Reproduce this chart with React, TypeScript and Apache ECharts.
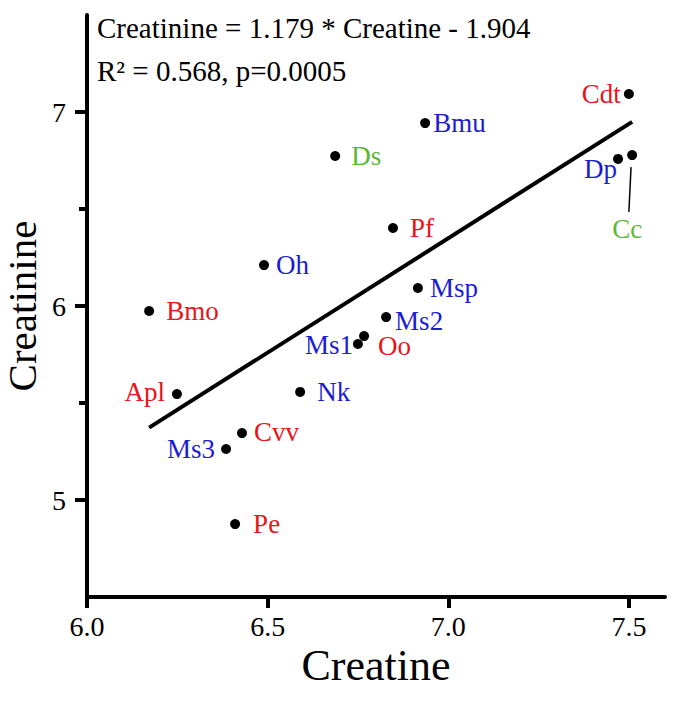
import React, { useEffect, useRef } from "react";
import * as echarts from "echarts";

// ---- data ----
const names = ["Cdt", "Bmu", "Ds", "Dp", "Cc", "Pf", "Oh", "Msp", "Bmo", "Ms2", "Oo", "Ms1", "Nk", "Apl", "Cvv", "Ms3", "Pe"];
const creatine = [7.5, 6.936, 6.687, 7.47, 7.509, 6.847, 6.49, 6.916, 6.172, 6.828, 6.767, 6.75, 6.59, 6.249, 6.429, 6.385, 6.41];
const creatinine = [7.093, 6.943, 6.773, 6.758, 6.778, 6.402, 6.211, 6.093, 5.974, 5.943, 5.845, 5.804, 5.557, 5.546, 5.345, 5.263, 4.876];
const groups = ["red", "blue", "green", "blue", "green", "red", "blue", "blue", "red", "blue", "red", "blue", "blue", "red", "red", "blue", "red"];

// regression line end points (Creatinine = 1.179 * Creatine - 1.904)
const fitLine = [
  [6.172, 5.373],
  [7.509, 6.949],
];
// leader line from Cc point to its label
const ccLeader = [
  [7.506, 6.716],
  [7.5, 6.485],
];

const xTicks = [6.0, 6.5, 7.0, 7.5];
const yMajorTicks = [5, 6, 7];
const yMinorTicks = [5.5, 6.5];

const annotation1 = "Creatinine = 1.179 * Creatine - 1.904";
const annotation2 = "R\u00B2 = 0.568, p=0.0005";

// ---- styles ----
const FONT = '"Liberation Serif", "Times New Roman", serif';
const colorMap: Record<string, string> = {
  red: "#e8141a",
  blue: "#1c1cd4",
  green: "#5ab834",
};
const labelPlacement: Record<string, any> = {
  Cdt: { position: "left", distance: 3 },
  Bmu: { position: "right", distance: 3 },
  Ds: { position: "right", distance: 11 },
  Dp: { position: "left", distance: 0, offset: [4, 10] },
  Cc: { position: "bottom", distance: 55, offset: [-5, 0] },
  Pf: { position: "right", distance: 12 },
  Oh: { position: "right", distance: 7 },
  Msp: { position: "right", distance: 7 },
  Bmo: { position: "right", distance: 12 },
  Ms2: { position: "right", distance: 4, offset: [0, 4] },
  Oo: { position: "right", distance: 9, offset: [0, 10] },
  Ms1: { position: "left", distance: 0, offset: [0, 1] },
  Nk: { position: "right", distance: 12 },
  Apl: { position: "left", distance: 7, offset: [0, -2] },
  Cvv: { position: "right", distance: 7, offset: [0, -1] },
  Ms3: { position: "left", distance: 6 },
  Pe: { position: "right", distance: 13 },
};

export default function App() {
  const ref = useRef<HTMLDivElement>(null);

  useEffect(() => {
    document.body.style.margin = "0";
    if (!ref.current) return;
    const chart = echarts.init(ref.current, undefined, { renderer: "svg" });

    const scatterData = names.map((n, i) => ({
      name: n,
      value: [creatine[i], creatinine[i]],
      label: {
        show: true,
        color: colorMap[groups[i]],
        ...labelPlacement[n],
      },
    }));

    const axisLineStyle = { color: "#000", width: 4 };

    chart.setOption({
      animation: false,
      backgroundColor: "#fff",
      grid: {
        left: 87,
        right: 13,
        top: 15,
        bottom: 106,
        containLabel: false,
        outerBoundsMode: "none",
      },
      xAxis: {
        type: "value",
        min: 6,
        max: 7.6,
        axisLine: { show: true, onZero: false, lineStyle: axisLineStyle },
        axisTick: { show: true, customValues: xTicks, length: 11, lineStyle: axisLineStyle },
        axisLabel: {
          customValues: xTicks,
          formatter: (v: number) => v.toFixed(1),
          fontSize: 28,
          fontFamily: FONT,
          color: "#000",
          margin: 15,
        },
        splitLine: { show: false },
        name: "Creatine",
        nameLocation: "middle",
        nameGap: 46,
        nameMoveOverlap: false,
        nameTextStyle: { fontSize: 44, fontFamily: FONT, color: "#000" },
      },
      yAxis: [
        {
          type: "value",
          min: 4.5,
          max: 7.5,
          position: "left",
          axisLine: { show: true, onZero: false, lineStyle: axisLineStyle },
          axisTick: { show: true, customValues: yMajorTicks, length: 12, lineStyle: axisLineStyle },
          axisLabel: {
            customValues: yMajorTicks,
            formatter: (v: number) => String(v),
            fontSize: 28,
            fontFamily: FONT,
            color: "#000",
            margin: 21,
          },
          splitLine: { show: false },
          name: "Creatinine",
          nameLocation: "middle",
          nameGap: 45,
          nameMoveOverlap: false,
          nameTextStyle: { fontSize: 41, fontFamily: FONT, color: "#000" },
        },
        {
          type: "value",
          min: 4.5,
          max: 7.5,
          position: "left",
          offset: 0,
          axisLine: { show: false },
          axisTick: { show: true, customValues: yMinorTicks, length: 8, lineStyle: axisLineStyle },
          axisLabel: { show: false },
          splitLine: { show: false },
        },
      ],
      graphic: [
        {
          type: "text",
          x: 97,
          y: 28,
          style: {
            text: annotation1,
            fontSize: 29,
            fontFamily: FONT,
            fill: "#000",
            verticalAlign: "middle",
            align: "left",
          },
        },
        {
          type: "text",
          x: 97,
          y: 71,
          style: {
            text: annotation2,
            fontSize: 29,
            fontFamily: FONT,
            fill: "#000",
            verticalAlign: "middle",
            align: "left",
          },
        },
      ],
      series: [
        {
          type: "line",
          data: fitLine,
          symbol: "none",
          silent: true,
          lineStyle: { color: "#000", width: 4 },
          z: 2,
        },
        {
          type: "line",
          data: ccLeader,
          symbol: "none",
          silent: true,
          lineStyle: { color: "#000", width: 1.5 },
          z: 2,
        },
        {
          type: "scatter",
          data: scatterData,
          symbol: "circle",
          symbolSize: 10,
          itemStyle: { color: "#000", opacity: 1 },
          label: {
            show: true,
            formatter: "{b}",
            fontSize: 27,
            fontFamily: FONT,
            opacity: 1,
          },
          z: 3,
        },
      ],
    });

    return () => chart.dispose();
  }, []);

  return <div ref={ref} style={{ width: 678, height: 703 }} />;
}
